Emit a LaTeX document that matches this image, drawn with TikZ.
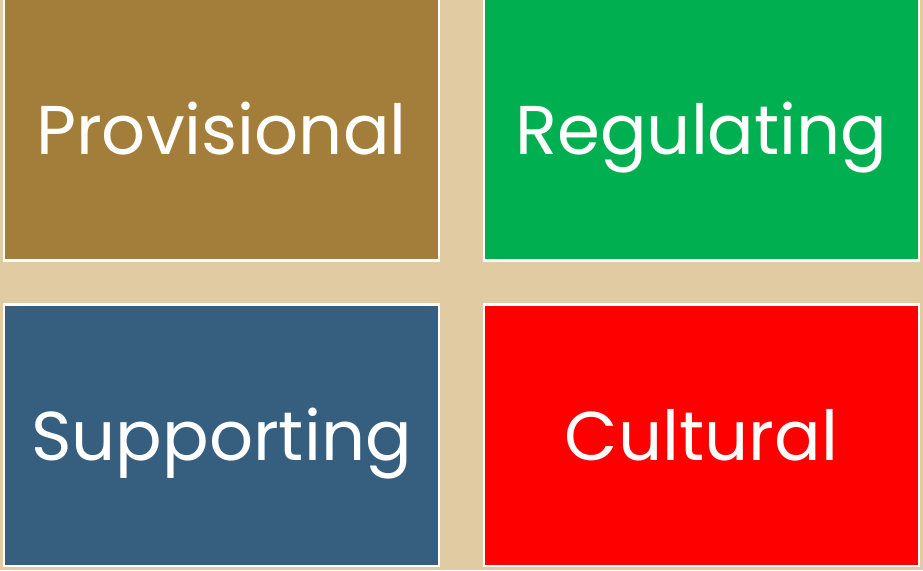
\documentclass[tikz,border=0pt]{standalone}
\usepackage{fontspec}
\setmainfont{Poppins}
\usepackage{xcolor}
\usetikzlibrary{positioning}

\definecolor{sandbg}{HTML}{E0CBA2}
\definecolor{provbrown}{HTML}{A37E3A}
\definecolor{regugreen}{HTML}{00AF50}
\definecolor{suppblue}{HTML}{365E7E}
\definecolor{cultred}{HTML}{FF0000}

\begin{document}
\begin{tikzpicture}[x=1pt, y=1pt]
                        % four service boxes on a sand background
                        \tikzstyle{every node}=[rectangle, draw=white, line width=2.5pt, text=white,
                                minimum width=435pt, minimum height=261.5pt, inner sep=0pt,
                                text height=50pt, text depth=0pt,
                                font=\fontsize{69}{69}\selectfont]
                        \clip (0, 0) rectangle (923, -570);
                        \fill[sandbg] (0, 0) rectangle (923, -570);

                        \node[fill=provbrown] (P) at (221.5, -129.5) {Provisional};
                        \node[fill=regugreen] (R) [right of = P, node distance=480pt] {Regulating};
                        \node[fill=suppblue] (S) [below of = P, node distance=305.5pt] {Supporting};
                        \node[fill=cultred] (C) [below of = R, node distance=305.5pt] {Cultural};
                \end{tikzpicture}
\end{document}
